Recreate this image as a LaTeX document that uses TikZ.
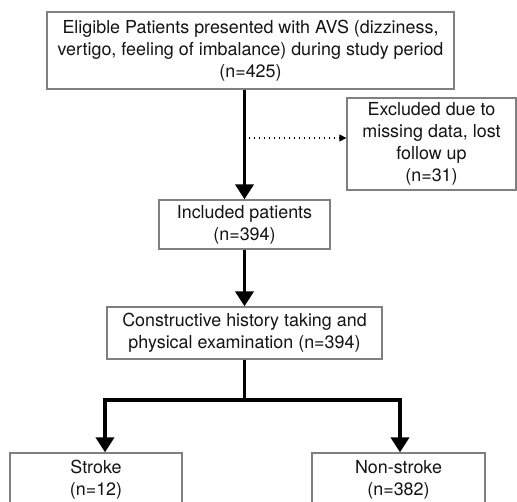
\documentclass[tikz,border=0pt]{standalone}
\usepackage{fontspec}
\setmainfont{TeX Gyre Heros}
\usetikzlibrary{arrows.meta}
\begin{document}
\begin{tikzpicture}[x=1pt,y=1pt,
  box/.style={draw=black!50,line width=1.3pt,fill=white,align=center,text=black!92,
    font=\fontsize{17.9}{22}\selectfont,inner sep=0pt,anchor=center},
  thickarrow/.style={line width=3.8pt,-{Triangle[width=18pt,length=15pt]}},
  thickline/.style={line width=3.8pt},
  dotarrow/.style={line width=1.4pt,dash pattern=on 1.4pt off 3.6pt,-{Triangle[width=7pt,length=7pt]}}]
\useasboundingbox (0,0) rectangle (517,-502);
\clip (0,0) rectangle (517,-502);
\node[box,minimum width=407pt,minimum height=77pt] (top) at (250.5,-50.5)
  {Eligible Patients presented with AVS (dizziness,\\vertigo, feeling of imbalance) during study period\\(n=425)};
\node[box,minimum width=169pt,minimum height=92pt] (exc) at (431.5,-144)
  {Excluded due to\\missing data, lost\\follow up\\(n=31)};
\node[box,minimum width=171pt,minimum height=49pt] (inc) at (244.5,-224.5)
  {Included patients\\(n=394)};
\node[box,minimum width=275pt,minimum height=52pt] (con) at (244.5,-333)
  {Constructive history taking and\\physical examination (n=394)};
\node[box,minimum width=172pt,minimum height=54pt] (str) at (96,-480)
  {Stroke\\(n=12)};
\node[box,minimum width=173pt,minimum height=54pt] (non) at (398.5,-480)
  {Non-stroke\\(n=382)};
\coordinate (split) at (244.5,-400);
\coordinate (dotstart) at (244.5,-138);
\draw[thickarrow] (top.south -| inc.north) -- (inc.north);
\draw[dotarrow] ([xshift=4pt]dotstart) -- (dotstart -| exc.west);
\draw[thickarrow] (inc.south) -- (con.north);
\draw[thickline] (con.south) -- (split);
\draw[thickarrow] (split) -| ([xshift=9pt]str.north);
\draw[thickarrow] (split) -| ([xshift=1.5pt]non.north);
\end{tikzpicture}
\end{document}
